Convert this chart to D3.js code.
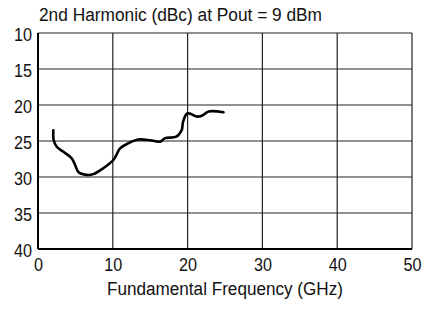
<!DOCTYPE html>
<html><head><meta charset="utf-8">
<script src="https://cdn.jsdelivr.net/npm/d3@7"></script>
<style>body{margin:0;background:#fff;} text{font-family:"Liberation Sans",Arial,sans-serif;fill:#111;}</style>
</head><body><svg id="c" width="432" height="312"></svg>
<script>
const freqGHz = [2.05,2.1,2.5,3.4,4.5,4.95,5.4,6.5,7.4,8.7,10.1,11.0,12.1,13.4,15.0,16.3,17.0,18.5,19.2,19.4,19.9,20.3,21.2,21.9,22.8,24.8];
const harmDbc = [23.5,24.9,25.8,26.5,27.4,28.3,29.3,29.7,29.6,28.8,27.6,26.0,25.3,24.8,24.9,25.1,24.6,24.4,23.5,22.3,21.2,21.2,21.6,21.5,20.9,21.0];
const xTicks = [0,10,20,30,40,50];
const yTicks = [10,15,20,25,30,35,40];
const title = "2nd Harmonic (dBc) at Pout = 9 dBm";
const xTitle = "Fundamental Frequency (GHz)";
const FONT = "Liberation Sans, Arial, sans-serif";

const svg = d3.select("#c");
const L=38,R=412,T=33,B=249;
const x = d3.scaleLinear().domain([0,50]).range([L,R]);
const y = d3.scaleLinear().domain([10,40]).range([T,B]);

const g = svg.append("g");
g.selectAll("line.v").data(xTicks).join("line")
  .attr("x1",d=>x(d)).attr("x2",d=>x(d)).attr("y1",T).attr("y2",B)
  .attr("stroke","#222").attr("stroke-width",1.2);
g.selectAll("line.h").data(yTicks).join("line")
  .attr("x1",L).attr("x2",R).attr("y1",d=>y(d)).attr("y2",d=>y(d))
  .attr("stroke","#222").attr("stroke-width",1.2);
g.append("line").attr("x1",L).attr("x2",L).attr("y1",T).attr("y2",B).attr("stroke","#000").attr("stroke-width",2);
g.append("line").attr("x1",L).attr("x2",R).attr("y1",B).attr("y2",B).attr("stroke","#000").attr("stroke-width",1.8);

const xa = svg.append("g").attr("transform",`translate(0,${B})`)
  .call(d3.axisBottom(x).tickValues(xTicks).tickSize(0).tickPadding(9).tickFormat(d3.format("d")));
xa.select(".domain").remove();
xa.selectAll("text").attr("font-size",18).attr("font-family",FONT).attr("fill","#111")
  .attr("transform","scale(0.9,1)").attr("x",0).each(function(d){ d3.select(this).attr("transform",null).attr("textLength",d<10?9:18).attr("lengthAdjust","spacingAndGlyphs"); });
const ya = svg.append("g").attr("transform",`translate(${L},0)`)
  .call(d3.axisLeft(y).tickValues(yTicks).tickSize(0).tickPadding(6).tickFormat(d3.format("d")));
ya.select(".domain").remove();
ya.selectAll("text").attr("font-size",18).attr("font-family",FONT).attr("fill","#111")
  .attr("textLength",18).attr("lengthAdjust","spacingAndGlyphs").attr("dy","0.4em");

const line = d3.line().x((d,i)=>x(freqGHz[i])).y((d,i)=>y(harmDbc[i])).curve(d3.curveCatmullRom.alpha(0.5));
svg.append("path").datum(harmDbc).attr("d",line).attr("fill","none").attr("stroke","#000").attr("stroke-width",2.6).attr("stroke-linejoin","round").attr("stroke-linecap","round");

svg.append("text").attr("x",39).attr("y",21).attr("font-size",18).attr("textLength",283).attr("lengthAdjust","spacingAndGlyphs").text(title);
svg.append("text").attr("x",225).attr("y",295).attr("text-anchor","middle").attr("font-size",18).attr("textLength",236).attr("lengthAdjust","spacingAndGlyphs").text(xTitle);
</script></body></html>
